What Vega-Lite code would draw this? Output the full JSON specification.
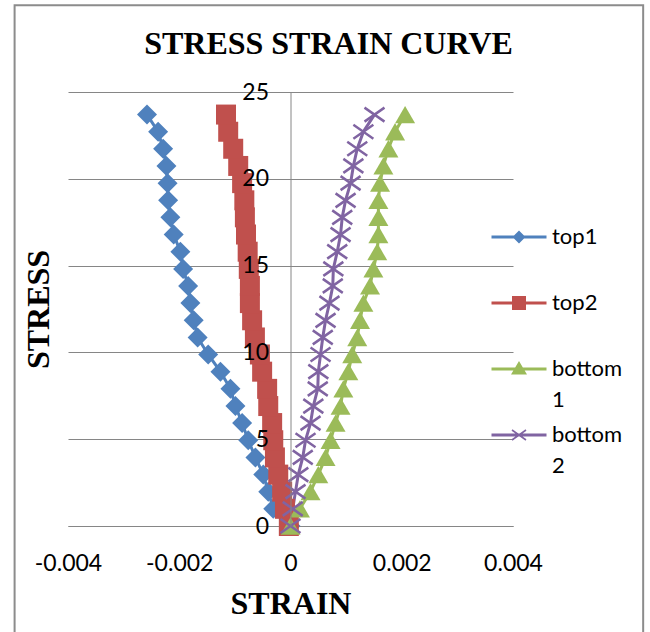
{
  "$schema": "https://vega.github.io/schema/vega-lite/v6.json",
  "width": 445,
  "height": 434,
  "autosize": {"type": "none"},
  "padding": {"left": 68, "top": 92, "right": 137, "bottom": 106},
  "background": "white",
  "title": {"text": "STRESS STRAIN CURVE", "font": "Liberation Serif", "fontSize": 32, "fontWeight": "bold", "color": "black", "anchor": "middle", "frame": "group", "dx": 38, "offset": -57},
  "config": {"view": {"stroke": null}},
  "resolve": {"axis": {"x": "independent", "y": "independent"}},
  "datasets": {
    "curves": [
      {"series": "top1", "stress": 0, "strain": 0},
      {"series": "top1", "stress": 0.99, "strain": -0.00031},
      {"series": "top1", "stress": 1.98, "strain": -0.0004},
      {"series": "top1", "stress": 2.96, "strain": -0.00049},
      {"series": "top1", "stress": 3.95, "strain": -0.00063},
      {"series": "top1", "stress": 4.94, "strain": -0.00076},
      {"series": "top1", "stress": 5.93, "strain": -0.00087},
      {"series": "top1", "stress": 6.91, "strain": -0.00099},
      {"series": "top1", "stress": 7.9, "strain": -0.00108},
      {"series": "top1", "stress": 8.89, "strain": -0.00126},
      {"series": "top1", "stress": 9.88, "strain": -0.00148},
      {"series": "top1", "stress": 10.86, "strain": -0.00167},
      {"series": "top1", "stress": 11.85, "strain": -0.00174},
      {"series": "top1", "stress": 12.84, "strain": -0.0018},
      {"series": "top1", "stress": 13.83, "strain": -0.00184},
      {"series": "top1", "stress": 14.81, "strain": -0.00193},
      {"series": "top1", "stress": 15.8, "strain": -0.00198},
      {"series": "top1", "stress": 16.79, "strain": -0.0021},
      {"series": "top1", "stress": 17.78, "strain": -0.00216},
      {"series": "top1", "stress": 18.76, "strain": -0.0022},
      {"series": "top1", "stress": 19.75, "strain": -0.00221},
      {"series": "top1", "stress": 20.74, "strain": -0.00223},
      {"series": "top1", "stress": 21.73, "strain": -0.00229},
      {"series": "top1", "stress": 22.71, "strain": -0.00238},
      {"series": "top1", "stress": 23.7, "strain": -0.00258},
      {"series": "top2", "stress": 0, "strain": -0.00003},
      {"series": "top2", "stress": 0.99, "strain": -0.0001},
      {"series": "top2", "stress": 1.98, "strain": -0.00015},
      {"series": "top2", "stress": 2.96, "strain": -0.00022},
      {"series": "top2", "stress": 3.95, "strain": -0.00028},
      {"series": "top2", "stress": 4.94, "strain": -0.00031},
      {"series": "top2", "stress": 5.93, "strain": -0.00033},
      {"series": "top2", "stress": 6.91, "strain": -0.0004},
      {"series": "top2", "stress": 7.9, "strain": -0.00042},
      {"series": "top2", "stress": 8.89, "strain": -0.00051},
      {"series": "top2", "stress": 9.88, "strain": -0.00055},
      {"series": "top2", "stress": 10.86, "strain": -0.00064},
      {"series": "top2", "stress": 11.85, "strain": -0.00069},
      {"series": "top2", "stress": 12.84, "strain": -0.00073},
      {"series": "top2", "stress": 13.83, "strain": -0.00073},
      {"series": "top2", "stress": 14.81, "strain": -0.00075},
      {"series": "top2", "stress": 15.8, "strain": -0.00077},
      {"series": "top2", "stress": 16.79, "strain": -0.0008},
      {"series": "top2", "stress": 17.78, "strain": -0.00082},
      {"series": "top2", "stress": 18.76, "strain": -0.00083},
      {"series": "top2", "stress": 19.75, "strain": -0.00087},
      {"series": "top2", "stress": 20.74, "strain": -0.00094},
      {"series": "top2", "stress": 21.73, "strain": -0.00103},
      {"series": "top2", "stress": 22.71, "strain": -0.00112},
      {"series": "top2", "stress": 23.7, "strain": -0.00116},
      {"series": "bottom1", "stress": 0, "strain": 0},
      {"series": "bottom1", "stress": 0.99, "strain": 0.00017},
      {"series": "bottom1", "stress": 1.98, "strain": 0.00036},
      {"series": "bottom1", "stress": 2.96, "strain": 0.0005},
      {"series": "bottom1", "stress": 3.95, "strain": 0.00063},
      {"series": "bottom1", "stress": 4.94, "strain": 0.00072},
      {"series": "bottom1", "stress": 5.93, "strain": 0.00081},
      {"series": "bottom1", "stress": 6.91, "strain": 0.0009},
      {"series": "bottom1", "stress": 7.9, "strain": 0.00095},
      {"series": "bottom1", "stress": 8.89, "strain": 0.00104},
      {"series": "bottom1", "stress": 9.88, "strain": 0.00111},
      {"series": "bottom1", "stress": 10.86, "strain": 0.0012},
      {"series": "bottom1", "stress": 11.85, "strain": 0.00125},
      {"series": "bottom1", "stress": 12.84, "strain": 0.00131},
      {"series": "bottom1", "stress": 13.83, "strain": 0.00143},
      {"series": "bottom1", "stress": 14.81, "strain": 0.00149},
      {"series": "bottom1", "stress": 15.8, "strain": 0.00156},
      {"series": "bottom1", "stress": 16.79, "strain": 0.00158},
      {"series": "bottom1", "stress": 17.78, "strain": 0.00158},
      {"series": "bottom1", "stress": 18.76, "strain": 0.00158},
      {"series": "bottom1", "stress": 19.75, "strain": 0.00161},
      {"series": "bottom1", "stress": 20.74, "strain": 0.00167},
      {"series": "bottom1", "stress": 21.73, "strain": 0.00176},
      {"series": "bottom1", "stress": 22.71, "strain": 0.00188},
      {"series": "bottom1", "stress": 23.7, "strain": 0.00206},
      {"series": "bottom2", "stress": 0, "strain": 0},
      {"series": "bottom2", "stress": 0.99, "strain": 0.00004},
      {"series": "bottom2", "stress": 1.98, "strain": 0.00009},
      {"series": "bottom2", "stress": 2.96, "strain": 0.00014},
      {"series": "bottom2", "stress": 3.95, "strain": 0.00022},
      {"series": "bottom2", "stress": 4.94, "strain": 0.00027},
      {"series": "bottom2", "stress": 5.93, "strain": 0.00036},
      {"series": "bottom2", "stress": 6.91, "strain": 0.00041},
      {"series": "bottom2", "stress": 7.9, "strain": 0.00049},
      {"series": "bottom2", "stress": 8.89, "strain": 0.0005},
      {"series": "bottom2", "stress": 9.88, "strain": 0.00054},
      {"series": "bottom2", "stress": 10.86, "strain": 0.00058},
      {"series": "bottom2", "stress": 11.85, "strain": 0.00063},
      {"series": "bottom2", "stress": 12.84, "strain": 0.0007},
      {"series": "bottom2", "stress": 13.83, "strain": 0.00076},
      {"series": "bottom2", "stress": 14.81, "strain": 0.00077},
      {"series": "bottom2", "stress": 15.8, "strain": 0.00084},
      {"series": "bottom2", "stress": 16.79, "strain": 0.0009},
      {"series": "bottom2", "stress": 17.78, "strain": 0.00093},
      {"series": "bottom2", "stress": 18.76, "strain": 0.00099},
      {"series": "bottom2", "stress": 19.75, "strain": 0.00108},
      {"series": "bottom2", "stress": 20.74, "strain": 0.00113},
      {"series": "bottom2", "stress": 21.73, "strain": 0.0012},
      {"series": "bottom2", "stress": 22.71, "strain": 0.00131},
      {"series": "bottom2", "stress": 23.7, "strain": 0.00151}
    ]
  },
  "layer": [
    {
      "data": {"name": "curves"},
      "mark": {"type": "line", "strokeWidth": 3},
      "encoding": {
        "x": {
          "field": "strain", "type": "quantitative",
          "scale": {"domain": [-0.004, 0.004], "nice": false, "zero": false},
          "axis": {
            "values": [-0.004, -0.002, 0, 0.002, 0.004],
            "labelExpr": "toString(datum.value)",
            "grid": false, "ticks": false, "tickSize": 0,
            "domain": true, "domainColor": "#868686", "domainWidth": 1,
            "labelFont": "Lato", "labelFontSize": 23, "labelColor": "black",
            "labelPadding": 26, "labelFlush": false, "labelOverlap": false,
            "title": "STRAIN", "titleFont": "Liberation Serif", "titleFontSize": 32,
            "titleFontWeight": "bold", "titleColor": "black",
            "titleBaseline": "alphabetic", "titleY": 87
          }
        },
        "y": {
          "field": "stress", "type": "quantitative",
          "scale": {"domain": [0, 25], "nice": false},
          "axis": {
            "orient": "left",
            "values": [0, 5, 10, 15, 20, 25],
            "grid": true, "gridColor": "#868686", "gridWidth": 1,
            "ticks": false, "labels": false, "domain": false, "title": null,
            "zindex": 0
          }
        },
        "color": {
          "field": "series", "type": "nominal",
          "scale": {"domain": ["top1", "top2", "bottom1", "bottom2"], "range": ["#4F81BD", "#C0504D", "#9BBB59", "#8064A2"]}
        },
        "order": {"field": "stress", "type": "quantitative"}
      }
    },
    {
      "data": {"name": "curves"},
      "mark": {"type": "point", "filled": true, "opacity": 1, "size": 400},
      "encoding": {
        "x": {"field": "strain", "type": "quantitative", "scale": {"domain": [-0.004, 0.004], "nice": false, "zero": false}, "axis": null},
        "y": {
          "field": "stress", "type": "quantitative",
          "scale": {"domain": [0, 25], "nice": false},
          "axis": {
            "orient": "left",
            "values": [0, 5, 10, 15, 20, 25],
            "offset": -222.5,
            "grid": false, "ticks": false, "tickSize": 0,
            "domain": true, "domainColor": "#868686", "domainWidth": 1,
            "labelFont": "Lato", "labelFontSize": 23, "labelColor": "black",
            "labelPadding": 22, "labelFlush": false, "labelOverlap": false,
            "title": "STRESS", "titleFont": "Liberation Serif", "titleFontSize": 32,
            "titleFontWeight": "bold", "titleColor": "black",
            "titleAngle": -90, "titleAlign": "center", "titleBaseline": "middle",
            "titleX": -252.5, "titleY": 217,
            "zindex": 1
          }
        },
        "color": {
          "field": "series", "type": "nominal",
          "scale": {"domain": ["top1", "top2", "bottom1", "bottom2"], "range": ["#4F81BD", "#C0504D", "#9BBB59", "#8064A2"]},
          "legend": {
            "orient": "none", "legendX": 440, "legendY": 134,
            "title": null, "padding": 0,
            "symbolSize": 400, "symbolOpacity": 1, "symbolStrokeWidth": 0,
            "labelFont": "Lato", "labelFontSize": 22, "labelColor": "black",
            "labelOffset": 22, "rowPadding": 13, "labelLimit": 200,
            "labelExpr": "length(datum.label) > 5 ? [substring(datum.label, 0, 6), substring(datum.label, 6)] : [datum.label, '']",
            "encode": {
              "symbols": {"update": {
                "shape": {"signal": "datum.value === 'top1' ? 'M-2.75,-0.15L2.75,-0.15L2.75,0.15L-2.75,0.15Z M0,-0.65L0.65,0L0,0.65L-0.65,0Z' : datum.value === 'top2' ? 'M-2.75,-0.15L2.75,-0.15L2.75,0.15L-2.75,0.15Z M-0.7,-0.7L0.7,-0.7L0.7,0.7L-0.7,0.7Z' : datum.value === 'bottom1' ? 'M-2.75,-0.15L2.75,-0.15L2.75,0.15L-2.75,0.15Z M0,-0.8L0.8,0.55L-0.8,0.55Z' : 'M-2.75,-0.15L2.75,-0.15L2.75,0.15L-2.75,0.15Z M-0.654,-0.565L0.746,0.435L0.654,0.565L-0.746,-0.435Z M-0.746,0.435L0.654,-0.565L0.746,-0.435L-0.654,0.565Z'"},
                "size": {"value": 400},
                "opacity": {"value": 1}
              }},
              "labels": {"update": {
                "lineHeight": {"value": 31}
              }}
            }
          }
        },
        "shape": {
          "field": "series", "type": "nominal",
          "scale": {"domain": ["bottom2", "bottom1", "top2", "top1"], "range": ["M-0.93,-0.81L1.07,0.59L0.93,0.81L-1.07,-0.59Z M-1.07,0.59L0.93,-0.81L1.07,-0.59L-0.93,0.81Z", "triangle-up", "square", "diamond"]},
          "legend": null
        }
      }
    },
    {
      "data": {"values": [{"frame": "chart"}]},
      "mark": {"type": "rect", "fill": "transparent", "stroke": "#8c8c8c", "strokeWidth": 2, "clip": false},
      "encoding": {
        "x": {"datum": -0.00496, "type": "quantitative", "scale": {"domain": [-0.004, 0.004], "nice": false, "zero": false}, "axis": null},
        "x2": {"datum": 0.00634},
        "y": {"datum": 30.0, "type": "quantitative", "scale": {"domain": [0, 25], "nice": false}, "axis": null},
        "y2": {"datum": -7}
      }
    }
  ]
}
